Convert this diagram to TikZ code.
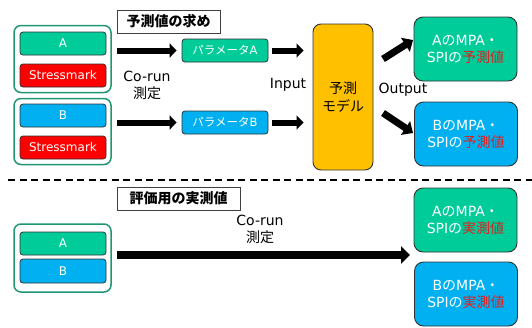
\documentclass[tikz,border=0pt]{standalone}
\usepackage{fontspec}
\setmainfont{DejaVu Sans}
\newfontfamily\jp{Noto Sans CJK JP}
\usetikzlibrary{arrows.meta}
\definecolor{cteal}{RGB}{0,204,153}
\definecolor{cblue}{RGB}{0,176,240}
\definecolor{cred}{RGB}{255,0,0}
\definecolor{corange}{RGB}{255,192,0}
\definecolor{grpline}{RGB}{30,150,115}
\definecolor{boxline}{RGB}{50,50,50}
\definecolor{tred}{RGB}{225,30,30}
\begin{document}
\begin{tikzpicture}[x=1pt,y=-1pt,
 box/.style={draw=boxline, line width=0.8pt, rounded corners=3pt, text=white, inner sep=0pt, minimum width=86pt, minimum height=23pt, font=\fontsize{12}{14}\selectfont},
 grp/.style={draw=grpline, line width=1.5pt, rounded corners=7pt, minimum width=97pt, inner sep=0pt},
 big/.style={draw=boxline, line width=0.9pt, rounded corners=9pt, text=white, align=center, inner sep=0pt, minimum width=103pt, minimum height=64pt, font=\fontsize{14}{17}\selectfont},
 ttl/.style={draw=black!75, line width=0.8pt, fill=white, inner sep=0pt, minimum height=23pt, font=\jp\bfseries\fontsize{14}{16}\selectfont},
 lbl/.style={align=center, inner sep=0pt, font=\fontsize{14}{17}\selectfont},
 blk/.style={line width=6pt, -{Triangle[length=7pt,width=14pt]}},
 blkb/.style={line width=8pt, -{Triangle[length=9pt,width=17pt]}},
]
\useasboundingbox (0,0) rectangle (532,327);
% top section
\node[grp, minimum height=67pt] (gA) at (62.5,59) {};
\node[box, fill=cteal] (a1) at (63,43.5) {A};
\node[box, fill=cred] (s1) at (63,75.5) {Stressmark};
\node[grp, minimum height=66pt] (gB) at (62.5,131.5) {};
\node[box, fill=cblue] (b1) at (63,115.5) {B};
\node[box, fill=cred] (s2) at (63,147.5) {Stressmark};
\node[ttl, minimum width=103pt] (t1) at (168.5,21.5) {予測値の求め};
\node[box, fill=cteal, font=\fontsize{11.5}{14}\selectfont] (pA) at (225,50.5) {{\jp パラメータ}A};
\node[box, fill=cblue, font=\fontsize{11.5}{14}\selectfont] (pB) at (225,122.5) {{\jp パラメータ}B};
\node[lbl] (cr1) at (147,85.5) {Co-run\\{\jp 測定}};
\node[draw=boxline, line width=0.9pt, fill=corange, rounded corners=8pt, minimum width=60pt, minimum height=146pt, inner sep=0pt, align=center, font=\jp\fontsize{14}{18}\selectfont] (model) at (343,97) {予測\\モデル};
\node[lbl] (inp) at (288,85) {Input};
\node[lbl] (outp) at (403,90) {Output};
\node[big, fill=cteal] (oA) at (465.5,49) {A{\jp の}MPA{\jp ・}\\SPI{\jp の}{\jp\color{tred}予測値}};
\node[big, fill=cblue] (oB) at (466,134) {B{\jp の}MPA{\jp ・}\\SPI{\jp の}{\jp\color{tred}予測値}};
\draw[blk, shorten <=5pt, shorten >=5pt] (gA.east |- pA.west) -- (pA.west);
\draw[blk, shorten <=5pt, shorten >=5pt] (gB.east |- pB.west) -- (pB.west);
\draw[blk, shorten <=4pt, shorten >=9pt] (pA.east) -- (pA.east -| model.west);
\draw[blk, shorten <=4pt, shorten >=9pt] (pB.east) -- (pB.east -| model.west);
\coordinate (o1s) at (383,59);
\coordinate (o1e) at (413,40);
\coordinate (o2s) at (383,113);
\coordinate (o2e) at (413,133);
\draw[line width=7pt, -{Triangle[length=9pt,width=16pt]}] (o1s) -- (o1e);
\draw[line width=7pt, -{Triangle[length=9pt,width=16pt]}] (o2s) -- (o2e);
% separator
\coordinate (dl) at (8,180);
\coordinate (dr) at (532,180);
\draw[line width=2.5pt, dash pattern=on 7pt off 4.5pt] (dl) -- (dr);
% bottom section
\node[ttl, minimum width=123pt] (t2) at (178.5,198.5) {評価用の実測値};
\node[grp, minimum height=68pt] (gC) at (62.5,258) {};
\node[box, fill=cteal] (a2) at (63,243.5) {A};
\node[box, fill=cblue, minimum height=24pt] (b2) at (63,271) {B};
\node[lbl] (cr2) at (260,229) {Co-run\\{\jp 測定}};
\node[big, fill=cteal] (oA2) at (465.5,220) {A{\jp の}MPA{\jp ・}\\SPI{\jp の}{\jp\color{tred}実測値}};
\node[big, fill=cblue] (oB2) at (466,294) {B{\jp の}MPA{\jp ・}\\SPI{\jp の}{\jp\color{tred}実測値}};
\coordinate (bs) at (117,255);
\coordinate (be) at (410,255);
\draw[blkb] (bs) -- (be);
\end{tikzpicture}
\end{document}
